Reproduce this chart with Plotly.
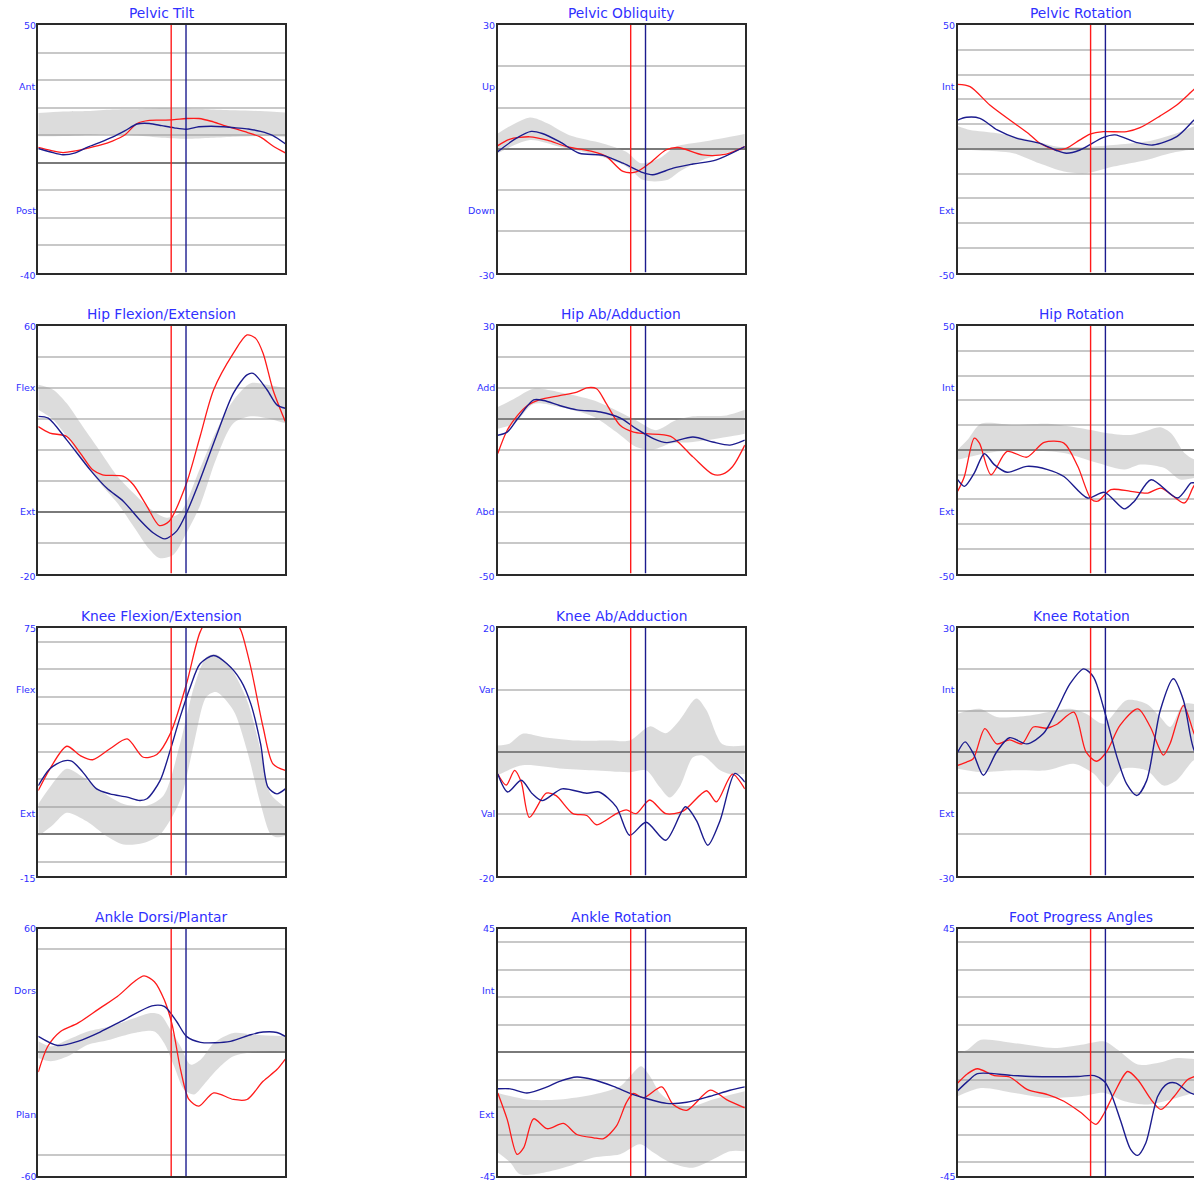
import plotly.graph_objects as go

# ---------------- chart meta ----------------
TITLES = ["Pelvic Tilt", "Pelvic Obliquity", "Pelvic Rotation",
          "Hip Flexion/Extension", "Hip Ab/Adduction", "Hip Rotation",
          "Knee Flexion/Extension", "Knee Ab/Adduction", "Knee Rotation",
          "Ankle Dorsi/Plantar", "Ankle Rotation", "Foot Progress Angles"]
Y_MAX = [50, 30, 50, 60, 30, 50, 75, 20, 30, 60, 45, 45]
Y_MIN = [-40, -30, -50, -20, -50, -50, -15, -20, -30, -60, -45, -45]
UP_LABELS = ["Ant", "Up", "Int", "Flex", "Add", "Int", "Flex", "Var", "Int", "Dors", "Int", ""]
DOWN_LABELS = ["Post", "Down", "Ext", "Ext", "Abd", "Ext", "Ext", "Val", "Ext", "Plan", "Ext", ""]
GRID_STEP = [10, 10, 10, 10, 10, 10, 10, 10, 10, 50, 10, 10]
EVENT_RED = 53.8   # % gait cycle
EVENT_BLUE = 59.8

# ---------------- data: (% gait cycle, degrees) ----------------
PT_HI = [(0,18.0),(10,18.5),(20,18.7),(30,19.3),(40,19.4),(50,19.7),(60,19.5),(70,19.3),(80,19.0),(90,18.7),(100,18.2)]
PT_LO = [(0,9.5),(10,9.6),(20,10.0),(30,10.3),(40,9.8),(50,9.0),(60,8.6),(70,9.0),(80,9.4),(90,9.6),(100,9.4)]
PT_RED = [(0,5.5),(5,4.4),(10,3.6),(15,4.2),(20,5.2),(25,6.3),(30,7.8),(35,10.0),(40,14.2),(45,15.3),(50,15.4),(55,15.6),(60,16.0),(65,16.0),(70,15.0),(75,13.5),(80,12.2),(85,10.8),(90,9.2),(95,6.0),(100,3.5)]
PT_BLUE = [(0,5.1),(5,3.8),(10,2.8),(15,3.5),(20,5.6),(25,7.3),(30,9.2),(35,11.5),(40,14.0),(45,14.2),(50,13.4),(55,12.6),(60,12.1),(65,13.0),(70,13.2),(75,13.0),(80,12.6),(85,12.2),(90,11.3),(95,9.8),(100,6.8)]

PO_HI = [(0,3.7),(13,7.6),(20,6.2),(29,3.3),(42.5,1.3),(52,-0.7),(58,-3.5),(65.5,-2.3),(72,0.5),(83,1.7),(100,3.6)]
PO_LO = [(0,-1.1),(13,2.1),(25,0.5),(38.5,-1.3),(52,-4.3),(59,-7.6),(68.5,-7.6),(73.6,-5.5),(83,-2.7),(100,0.1)]
PO_RED = [(0,0.75),(4.7,2.3),(13,2.9),(20,2.1),(28,0.5),(38.5,-0.7),(44,-1.9),(50.7,-5.5),(56,-5.6),(61.5,-3.5),(68,-0.3),(73,0.3),(83,-1.5),(92.5,-1.3),(100,0.5)]
PO_BLUE = [(0,-0.7),(7.4,2.5),(13.5,4.2),(18,3.7),(25,1.7),(33,-1.1),(42.5,-1.6),(50.7,-3.5),(58.8,-5.8),(62.8,-6.3),(71,-4.7),(79,-3.7),(88.5,-2.7),(100,0.5)]

PR_HI = [(0,9.2),(5,7.6),(16,6.3),(29,3.6),(40,0.9),(49.5,0.6),(63,1.5),(76.5,2.9),(88.7,6.3),(95.7,9.0),(100,9.5)]
PR_LO = [(0,-0.2),(9,-0.7),(22.5,-1.8),(33,-5.9),(43,-9.2),(52,-9.9),(63,-7.2),(76.5,-4.5),(86,-1.8),(95.7,-0.2),(100,0.0)]
PR_RED = [(0,26),(5,25.1),(13,17.7),(22.5,10.6),(29.3,5.6),(33.3,2.2),(40,-0.5),(44,0.2),(49.5,3.6),(53.6,5.9),(59,6.9),(68.4,6.9),(73.8,8.5),(82,13.3),(88.7,17.7),(95.7,24),(100,27.5)]
PR_BLUE = [(0,11.6),(3.6,12.7),(9,12.3),(16,7.6),(24,4.2),(33.3,2.2),(40,-0.7),(44,-1.8),(49.5,-0.5),(59,4.6),(63.7,5.6),(72.5,2.5),(79,1.5),(88.7,4.9),(95.7,11.6),(100,15.5)]

HF_HI = [(0,41),(6,39.4),(11.5,35),(18,27.5),(25,19.5),(32,11.4),(38.5,6),(46.6,0.1),(52,-2),(57.4,-0.4),(65.5,14),(72,26),(79,36),(86,41.5),(92.6,41),(100,39.9)]
HF_LO = [(0,32.9),(6,29.7),(11.5,24.3),(18,16.8),(25,9.2),(32,2.8),(38.5,-4.7),(45,-12.2),(49,-15),(54.7,-13.9),(60,-6.9),(65.5,2),(72,17),(79,28.6),(86,30.8),(92.6,30.2),(100,28.6)]
HF_RED = [(0,27.5),(4.7,25.4),(11.5,24.3),(17,18.9),(22,13.5),(26,11.9),(34.5,11.4),(38.5,8.7),(44,1.7),(49,-4.5),(53,-3.1),(60,9.2),(65.5,24.3),(71,39.4),(79,51.2),(84.5,57.1),(88,56),(91,51.2),(95,39.4),(100,29.1)]
HF_BLUE = [(0,30.8),(4,30.2),(11.5,23.2),(21,13.5),(27.7,7.6),(34.5,3.3),(41,-2.6),(46.6,-6.9),(51.3,-8.8),(56,-6.3),(60,-0.4),(65.5,10.3),(72,24.3),(79,38.3),(84.5,44.2),(87,44.7),(92.6,39.4),(96.6,34.5),(100,33.4)]

HA_HI = [(0,3.8),(6.5,6.4),(14.5,9.7),(25,8.6),(39,5.9),(48,2.7),(56,-0.5),(64,-3.7),(72,-0.5),(79,0.8),(92.6,1.1),(100,2.9)]
HA_LO = [(0,-3.2),(6.5,-1.6),(14.5,4.8),(25,3.8),(39,0.6),(48,-4.3),(56,-9.1),(63,-9.9),(70,-8),(79,-7.5),(92.6,-5.9),(100,-4.8)]
HA_RED = [(0,-11.2),(3.8,-3.7),(8,1.1),(12,4.3),(17,6.2),(25,7.5),(32,8.6),(36,10),(40,9.7),(44,4.8),(49.5,-2.1),(55,-4.3),(60,-4.8),(70,-5.7),(79,-12.3),(87,-17.9),(91,-17.9),(95,-15.5),(100,-8.5)]
HA_BLUE = [(0,-5.3),(3.8,-4.3),(8,0),(14.5,6.1),(18.6,5.9),(25,4.3),(32,2.9),(41.5,2.2),(49.5,0.3),(56,-3.2),(63,-6.4),(68.4,-7.7),(79,-5.9),(87,-7.5),(94,-8.5),(100,-6.9)]

HR_HI = [(0,0),(4,4),(9.4,10.5),(23,10),(36.4,10.5),(50,8.7),(60.7,6.7),(70,6),(75.6,7.4),(82,9.1),(86.4,6.7),(91.8,-1.3),(96,-4),(100,-4)]
HR_LO = [(0,-4),(5.4,-2.7),(16,-0.7),(29.7,-0.3),(43,-1.3),(56.7,-5.4),(67.5,-8),(74,-6),(83.7,-7.4),(90,-12),(96,-11.4),(100,-11)]
HR_RED = [(0,-16.8),(2.7,-10.8),(6.7,4.7),(8.8,2.7),(13.5,-10.1),(20,-0.7),(28,-3),(35,3),(43,2.7),(48.6,-6.7),(54,-19.9),(56.7,-20.8),(62,-16.1),(70,-16.8),(77,-17.5),(82.3,-15.5),(91.8,-21.5),(96,-14.1),(100,-12.5)]
HR_BLUE = [(0,-12.1),(2.7,-14.8),(6.7,-9.4),(10.8,-1.6),(14.8,-6),(20,-9.1),(28,-6.7),(36.4,-8),(43,-10.8),(52.6,-19.5),(59.4,-17.2),(67.5,-23.9),(71.5,-20.8),(78.3,-12.1),(89,-19.5),(94.5,-13.4),(96,-13.4),(100,-14)]

KF_HI = [(0,11),(4.7,17.1),(11.5,23.8),(18,20.8),(25,15.9),(34.5,11),(44,10.4),(50.7,14.1),(57.4,32.9),(63,53.5),(68,64.4),(72,65.4),(77.7,60.8),(84.5,48.7),(90,30.5),(94,14.7),(100,9.8)]
KF_LO = [(0,-0.7),(6,3.5),(11.5,7.8),(19.6,4.7),(27.7,-0.7),(34.5,-3.7),(42.5,-3.2),(49.3,-0.1),(57.4,12.3),(63,32.9),(68,49.9),(72,51.7),(79,45),(84.5,30.5),(90,11),(94,0.1),(96.6,-1.1),(100,-0.5)]
KF_RED = [(0,15.9),(4.7,23.8),(11.5,32),(17,28.6),(22,27.1),(29,31.1),(36,34.7),(42.5,28),(48,29),(53.4,36.5),(60,54.7),(65.5,73.5),(70,80),(75,81),(80,77),(82,74.2),(86,60.8),(91,39),(95,25.6),(100,23.2)]
KF_BLUE = [(0,17.7),(4.7,23.8),(10,26.6),(13.5,26.6),(18,22.6),(23.6,16.5),(29,14.7),(36,13.5),(41,12.3),(44,12.9),(49.3,19.5),(53.4,30.5),(57.4,42.6),(61.5,53.5),(65.5,62),(71,65),(76.4,62),(82,55.9),(86,47.5),(90,32.9),(93,17.1),(96.6,14.7),(100,16.5)]

KA_HI = [(0,1),(4.7,1.3),(10,2.9),(18,2.4),(32,1.8),(45,1.8),(53.4,1.8),(61.5,4.1),(68,3),(73.6,5.1),(80.4,8.6),(84.5,6.7),(91,1.2),(100,1)]
KA_LO = [(0,-3.8),(10,-2.2),(25,-2.7),(38.5,-3),(53.4,-3.3),(60,-3),(65.5,-5.7),(69.6,-7.4),(73.6,-5.7),(79,-0.9),(83,-0.6),(90,-3),(94,-3.6),(100,-3.6)]
KA_RED = [(0,-3.6),(3.4,-5.4),(6.8,-3),(9.5,-4.9),(12.8,-10.6),(19.6,-6.7),(23.6,-7.1),(30.4,-10),(36,-10.3),(40,-11.8),(48,-10),(52,-9.4),(56,-10),(61.5,-7.8),(68,-10),(75,-9.6),(84.5,-6.3),(88.5,-8.1),(95,-3.6),(100,-6)]
KA_BLUE = [(0,-3.6),(4,-6.5),(9.5,-4.6),(14,-6.8),(18,-7.9),(26,-6),(36,-6.7),(41,-6.5),(48,-8.9),(53.4,-13.5),(60,-11.4),(68,-14.3),(76,-8.9),(80.4,-11.1),(85,-15.1),(90,-11.1),(96,-3.5),(100,-4.9)]

KR_HI = [(0,9.2),(9,10.4),(15.8,8.4),(29.3,8.8),(45.5,10.4),(52,9.2),(59,6.8),(68.4,12.5),(76.5,11.6),(82,8.4),(86,6),(91.4,11.6),(95.7,11.6),(100,11.5)]
KR_LO = [(0,-4.1),(9,-4.9),(22.5,-4.5),(36,-4.5),(47,-2.9),(55,-5.3),(60.3,-8.5),(67,-4.1),(76.5,-4.5),(83.3,-8.2),(88.7,-6.9),(95.7,-2),(100,-1.5)]
KR_RED = [(0,-3.3),(3.6,-2.5),(6.3,-1.7),(11,5.6),(15.8,1.9),(21,2.9),(26,1.9),(30.6,6),(36,5.7),(40,6.6),(47,9.6),(52,-0.1),(56.3,-2.3),(60.3,0),(65.7,6.4),(73,10.4),(78,6),(83.3,-0.8),(86,2),(91.4,11.2),(95.7,4.4),(100,-1)]
KR_BLUE = [(0,-0.1),(3,2.4),(6.3,-0.4),(10.4,-5.7),(15.8,0),(21,3.4),(28,1.9),(34.7,4.4),(40,10),(45.5,16.5),(51,20.1),(55,18.1),(59,10.8),(64.5,-1.3),(68.4,-7.8),(72.5,-10.6),(76.5,-7),(82,10),(87.3,17.7),(91.4,12.5),(95.7,0.4),(100,-3)]

AD_HI = [(0,5.3),(5,2.8),(12,6.1),(20,10.1),(29,12.5),(38.8,16.5),(45.5,19),(49.5,18.1),(53.5,10.9),(57.6,2.8),(61.6,-6),(65.7,-3.6),(71,4.4),(79,9.3),(87,8.5),(100,7.7)]
AD_LO = [(0,-2.8),(5,-4.4),(12,-2),(20,3.6),(29,6.1),(38.8,9.3),(47,10.1),(51,4.4),(55,-6.8),(59,-18.1),(63,-20.5),(67,-15.7),(72.4,-8.4),(79,-2),(90,0.4),(100,0.4)]
AD_RED = [(0,-9.6),(3.8,2.8),(9,10.1),(16,14.1),(25,21.4),(32,27),(38.8,34.2),(42.8,37),(47,34.2),(51,25.4),(54.2,13.3),(57.6,-8.4),(61,-22.9),(65,-26.1),(71,-19.7),(79,-22.9),(84.5,-22.9),(91,-14.1),(96.6,-8.4),(100,-3.3)]
AD_BLUE = [(0,7.7),(7.8,3.3),(16,5.3),(25,9.8),(34.7,15.7),(46,22.5),(51,22.2),(56,14.9),(60,7.7),(65.7,4.8),(77.8,5.3),(86,8.5),(91,9.8),(96.6,9.6),(100,7.7)]

AR_HI = [(0,-14.8),(11.8,-17.2),(25,-17.2),(38.8,-15.4),(49.5,-12.4),(53.6,-8.7),(58,-5.1),(61.6,-8.7),(65.7,-14.8),(72.4,-19),(79,-19.6),(87,-17.2),(100,-14.2)]
AR_LO = [(0,-36.5),(5,-40.1),(9,-44.4),(18.5,-43.8),(29,-41.4),(38.8,-38.3),(49.5,-37.1),(57.6,-33.5),(63,-36.5),(69.7,-40.1),(79,-42),(87,-39),(94,-36),(100,-36)]
AR_RED = [(0,-14.8),(3.8,-24.4),(7.8,-37.1),(10.5,-34.7),(14.5,-24.2),(20,-27.8),(26.6,-25.9),(32,-29.9),(38.8,-31.1),(42.8,-31.4),(48,-26.9),(52,-18.4),(54.9,-15),(59,-16.6),(66.4,-12.6),(71,-19),(76.5,-21.1),(86,-13.8),(92.6,-17.2),(100,-20.2)]
AR_BLUE = [(0,-13.3),(5,-13.3),(11.8,-14.8),(20,-12.6),(25,-10.6),(32,-9),(38.8,-10),(46.8,-12.4),(54.9,-15.4),(61.6,-17.2),(68.4,-18.6),(76.5,-18.2),(86,-16),(94,-13.8),(100,-12.6)]

FP_HI = [(0,-0.3),(4,0.9),(9.4,4.5),(23,3.3),(39,1.5),(50,2.7),(59.4,3.9),(64.8,0.9),(72.9,-4.5),(81,-3.9),(89,-2.1),(96,-2.5),(100,-2.5)]
FP_LO = [(0,-16),(9.4,-13),(23,-14.8),(36.4,-16.6),(50,-16),(59.4,-14.8),(67.5,-17.8),(77,-19),(86.4,-17.2),(96,-14.8),(100,-14.5)]
FP_RED = [(0,-11.2),(4,-7.8),(8,-6),(14.8,-8.5),(21,-9),(28.3,-13.6),(36.4,-15.4),(43,-17.8),(50,-22),(56,-26.2),(59.4,-22),(63.4,-14.8),(68.8,-7),(72.9,-10),(78.3,-17.2),(82.3,-20.8),(87.7,-16),(93,-10),(96,-8.8),(100,-7)]
FP_BLUE = [(0,-14),(4,-10.6),(8,-7.8),(21.6,-8.4),(29.7,-8.8),(48.6,-8.8),(55.3,-8.5),(59.4,-10.6),(62,-14.8),(66,-25),(70,-35.3),(72.9,-37.5),(76.2,-32.9),(81,-16),(85,-11.4),(88.4,-11.2),(93,-14.2),(96,-15.4),(100,-16)]

SERIES = [
    (PT_LO, PT_HI, PT_RED, PT_BLUE), (PO_LO, PO_HI, PO_RED, PO_BLUE), (PR_LO, PR_HI, PR_RED, PR_BLUE),
    (HF_LO, HF_HI, HF_RED, HF_BLUE), (HA_LO, HA_HI, HA_RED, HA_BLUE), (HR_LO, HR_HI, HR_RED, HR_BLUE),
    (KF_LO, KF_HI, KF_RED, KF_BLUE), (KA_LO, KA_HI, KA_RED, KA_BLUE), (KR_LO, KR_HI, KR_RED, KR_BLUE),
    (AD_LO, AD_HI, AD_RED, AD_BLUE), (AR_LO, AR_HI, AR_RED, AR_BLUE), (FP_LO, FP_HI, FP_RED, FP_BLUE),
]

# ---------------- layout geometry (pixels) ----------------
W, H = 1194, 1183
COL_LEFT = [38.3, 497.8, 957.7]
ROW_TOP = [25.0, 326.0, 628.0, 928.5]
PW, PH = 247.0, 247.5

TXT_BLUE = "#3030ff"
RED = "#ff1a1a"
NAVY = "#1c1c8e"
BAND = "rgba(150,150,150,0.33)"
FONT = "DejaVu Sans"

def xs(pts):
    return [p[0] for p in pts]

def ys(pts):
    return [p[1] for p in pts]

fig = go.Figure()
annotations = []
layout = {}

for i, title in enumerate(TITLES):
    r, c = divmod(i, 3)
    k = i + 1
    xa = "x" if k == 1 else f"x{k}"
    ya = "y" if k == 1 else f"y{k}"
    left = COL_LEFT[c]
    top = ROW_TOP[r]
    right = min(left + PW, W)
    xmax = (right - left) / PW * 100.0
    lo, hi, red, blue = SERIES[i]

    fig.add_trace(go.Scatter(x=xs(lo), y=ys(lo), mode="lines", line=dict(width=0, shape="spline", smoothing=0.8),
                             xaxis=xa, yaxis=ya, hoverinfo="skip", showlegend=False))
    fig.add_trace(go.Scatter(x=xs(hi), y=ys(hi), mode="lines", line=dict(width=0, shape="spline", smoothing=0.8),
                             fill="tonexty", fillcolor=BAND,
                             xaxis=xa, yaxis=ya, hoverinfo="skip", showlegend=False))
    fig.add_trace(go.Scatter(x=xs(red), y=ys(red), mode="lines",
                             line=dict(color=RED, width=1.3, shape="spline", smoothing=0.8),
                             xaxis=xa, yaxis=ya, showlegend=False))
    fig.add_trace(go.Scatter(x=xs(blue), y=ys(blue), mode="lines",
                             line=dict(color=NAVY, width=1.4, shape="spline", smoothing=0.8),
                             xaxis=xa, yaxis=ya, showlegend=False))
    fig.add_trace(go.Scatter(x=[EVENT_RED, EVENT_RED], y=[Y_MIN[i], Y_MAX[i]], mode="lines",
                             line=dict(color=RED, width=1.4), xaxis=xa, yaxis=ya, showlegend=False))
    fig.add_trace(go.Scatter(x=[EVENT_BLUE, EVENT_BLUE], y=[Y_MIN[i], Y_MAX[i]], mode="lines",
                             line=dict(color=NAVY, width=1.4), xaxis=xa, yaxis=ya, showlegend=False))

    xname = "xaxis" if k == 1 else f"xaxis{k}"
    yname = "yaxis" if k == 1 else f"yaxis{k}"
    layout[xname] = dict(domain=[left / W, right / W], range=[0, xmax], anchor=ya,
                         showgrid=False, zeroline=False, showticklabels=False, ticks="",
                         showline=True, mirror=True, linecolor="#2a2a2a", linewidth=1.5)
    layout[yname] = dict(domain=[1 - (top + PH) / H, 1 - top / H], range=[Y_MIN[i], Y_MAX[i]], anchor=xa,
                         showgrid=True, gridcolor="#c8c8c8", gridwidth=1.5,
                         tick0=0, dtick=GRID_STEP[i],
                         zeroline=True, zerolinecolor="#7a7a7a", zerolinewidth=1.5,
                         showticklabels=False, ticks="",
                         showline=True, mirror=(c < 2), linecolor="#2a2a2a", linewidth=1.5)

    # title
    annotations.append(dict(text=title, xref="paper", yref="paper",
                            x=(left + PW / 2) / W, y=1 - (top - 12) / H,
                            xanchor="center", yanchor="middle", showarrow=False,
                            font=dict(family=FONT, size=13.8, color=TXT_BLUE)))
    lab_x = (left - 0.5) / W
    small = dict(family=FONT, size=9.5, color=TXT_BLUE)
    annotations.append(dict(text=str(Y_MAX[i]), xref="paper", yref="paper", x=lab_x, y=1 - top / H,
                            xanchor="right", yanchor="middle", showarrow=False, font=small))
    if r < 3:
        annotations.append(dict(text=str(Y_MIN[i]), xref="paper", yref="paper", x=lab_x,
                                y=1 - (top + PH + 3) / H,
                                xanchor="right", yanchor="middle", showarrow=False, font=small))
    else:
        annotations.append(dict(text=str(Y_MIN[i]), xref="paper", yref="paper", x=lab_x,
                                y=0.0, xanchor="right", yanchor="bottom", showarrow=False, font=small,
                                borderpad=0))
    if UP_LABELS[i]:
        annotations.append(dict(text=UP_LABELS[i], xref="paper", yref="paper", x=lab_x,
                                y=1 - (top + 0.25 * PH) / H,
                                xanchor="right", yanchor="middle", showarrow=False, font=small))
    if DOWN_LABELS[i]:
        annotations.append(dict(text=DOWN_LABELS[i], xref="paper", yref="paper", x=lab_x,
                                y=1 - (top + 0.75 * PH) / H,
                                xanchor="right", yanchor="middle", showarrow=False, font=small))

fig.update_layout(width=W, height=H, margin=dict(l=0, r=0, t=0, b=0, pad=0),
                  paper_bgcolor="white", plot_bgcolor="white", showlegend=False,
                  annotations=annotations, **layout)

fig.write_html("out.html")
